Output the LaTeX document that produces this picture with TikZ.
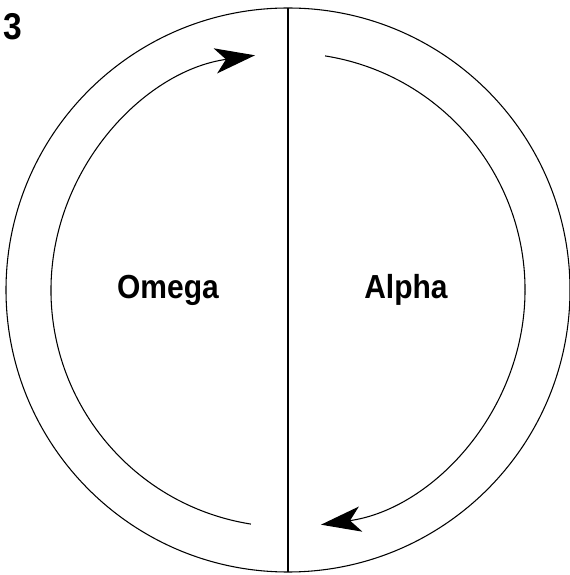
\documentclass[tikz,border=0pt]{standalone}
\usepackage{fontspec}
\setmainfont{Liberation Sans}[FakeStretch=0.9]
\usetikzlibrary{arrows.meta}

\begin{document}
\begin{tikzpicture}[x=0.75pt, y=0.75pt]
  \tikzset{ring/.style={line width=0.8pt},
           flow/.style={line width=0.8pt, -{Stealth[length=30pt, width=19pt, inset=8pt]}},
           lbl/.style={font=\fontsize{25}{30}\selectfont\bfseries}}
  \useasboundingbox (0,0) rectangle (570,575);

  % Outer circle and divider
  \coordinate (c) at (288,285);
  \draw[ring] (c) circle (282);
  \coordinate (top) at (288,567);
  \coordinate (bot) at (288,3);
  \draw[line width=1pt] (top) -- (bot);

  % Inner arrows
  \draw[flow] ([shift={(261:237)}]c) arc[start angle=261, end angle=98, radius=237];
  \draw[flow] ([shift={(81:237)}]c) arc[start angle=81, end angle=-82, radius=237];

  % Labels
  \node[lbl] (omega) at (168,285) {Omega};
  \node[lbl] (alpha) at (406,285) {Alpha};
  \node[lbl, font=\fontsize{28}{32}\selectfont\bfseries] (num) at (13,548) {3};
\end{tikzpicture}
\end{document}
